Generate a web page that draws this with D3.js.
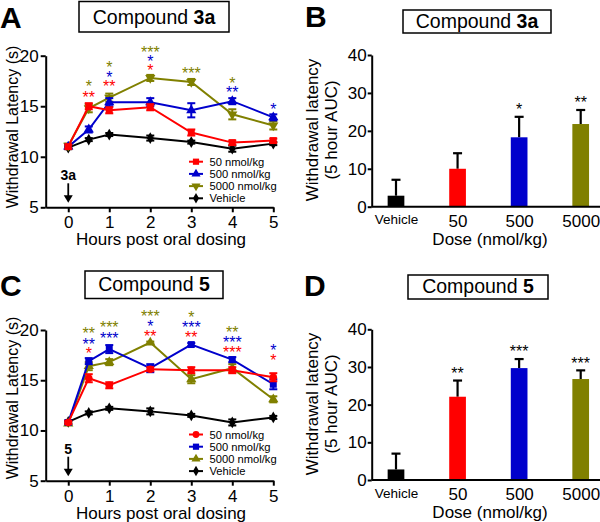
<!DOCTYPE html>
<html><head><meta charset="utf-8">
<script src="https://cdn.jsdelivr.net/npm/d3@7"></script>
<style>
body{margin:0;background:#fff}
text{font-family:"Liberation Sans",Arial,Helvetica,sans-serif;fill:#000}
</style>
</head><body>
<svg id="chart" width="600" height="522"></svg>
<script>
// ---------- data ----------
const hours = [0, 0.5, 1, 2, 3, 4, 5];
const hourTicks = [0, 1, 2, 3, 4, 5];
const latencyTicks = [5, 10, 15, 20];
const aucTicks = [0, 10, 20, 30, 40];
const seriesNames = ["50 nmol/kg", "500 nmol/kg", "5000 nmol/kg", "Vehicle"];
const seriesColors = ["#ff0000", "#0000cc", "#808000", "#000000"];

// Compound 3a time course (s)
const a50 = [11.0, 15.0, 14.6, 14.9, 12.4, 11.4, 11.6];
const a50Err = [0.2, 0.3, 0.3, 0.3, 0.3, 0.2, 0.2];
const a500 = [11.0, 12.7, 15.4, 15.4, 14.6, 15.5, 13.9];
const a500Err = [0.2, 0.3, 0.4, 0.4, 0.7, 0.3, 0.3];
const a5000 = [11.1, 14.8, 15.85, 17.8, 17.4, 14.2, 13.1];
const a5000Err = [0.2, 0.4, 0.4, 0.3, 0.3, 0.5, 0.4];
const aVeh = [10.9, 11.7, 12.2, 11.85, 11.45, 10.8, 11.3];
const aVehErr = [0.15, 0.15, 0.15, 0.25, 0.15, 0.3, 0.15];
// significance marks: [hour, series index, label, level]
const starsA = [
  [0.5, 2, "*", 17.3], [0.5, 0, "**", 16.2],
  [1, 2, "*", 19.15], [1, 1, "*", 18.25], [1, 0, "**", 17.3],
  [2, 2, "***", 20.65], [2, 1, "*", 19.8], [2, 0, "*", 18.9],
  [3, 2, "***", 18.65],
  [4, 2, "*", 17.6], [4, 1, "**", 16.7],
  [5, 1, "*", 15.0]
];

// Compound 5 time course (s)
const c50 = [10.8, 15.2, 14.5, 16.1, 16.0, 16.0, 15.3];
const c50Err = [0.15, 0.4, 0.3, 0.2, 0.3, 0.3, 0.4];
const c500 = [10.8, 16.9, 18.1, 16.2, 18.55, 17.05, 14.6];
const c500Err = [0.15, 0.3, 0.4, 0.4, 0.15, 0.25, 0.5];
const c5000 = [10.7, 16.4, 16.8, 18.75, 15.1, 16.2, 13.1];
const c5000Err = [0.15, 0.4, 0.3, 0.1, 0.4, 0.4, 0.3];
const cVeh = [10.85, 11.75, 12.2, 11.9, 11.5, 10.8, 11.3];
const cVehErr = [0.15, 0.15, 0.15, 0.3, 0.15, 0.3, 0.15];
const starsC = [
  [0.5, 2, "**", 20.0], [0.5, 1, "**", 18.9], [0.5, 0, "*", 18.0],
  [1, 2, "***", 20.6], [1, 1, "***", 19.55],
  [2, 2, "***", 21.7], [2, 1, "*", 20.7], [2, 0, "**", 19.75],
  [3, 2, "*", 21.65], [3, 1, "***", 20.65], [3, 0, "**", 19.65],
  [4, 2, "**", 20.15], [4, 1, "***", 19.1], [4, 0, "***", 18.1],
  [5, 1, "*", 18.35], [5, 0, "*", 17.35]
];

// 5 hour AUC bars
const doses = ["Vehicle", "50", "500", "5000"];
const doseColors = ["#000000", "#ff0000", "#0000cc", "#808000"];
const bAuc = [2.9, 10.0, 18.3, 21.8];
const bErr = [4.2, 4.1, 5.4, 3.7];
const bStars = ["", "", "*", "**"];
const dAuc = [2.8, 22.1, 29.7, 26.8];
const dErr = [4.2, 4.3, 2.4, 2.3];
const dStars = ["", "**", "***", "***"];

// ---------- drawing ----------
const svg = d3.select("#chart");
svg.append("rect").attr("width", 600).attr("height", 522).attr("fill", "#fff");

function styleAxis(g, fs) {
  g.selectAll("path.domain").attr("stroke", "#000").attr("stroke-width", 2);
  g.selectAll(".tick line").attr("stroke", "#000").attr("stroke-width", 2);
  g.selectAll(".tick text").attr("font-size", fs).attr("fill", "#000")
    .style("font-family", '"Liberation Sans",Arial,sans-serif');
}

function header(letter, lx, ly, title, bold, box, baseY) {
  svg.append("text").attr("x", lx).attr("y", ly).attr("font-size", 30)
    .attr("font-weight", "bold").text(letter);
  svg.append("rect").attr("x", box[0]).attr("y", box[1]).attr("width", box[2]).attr("height", box[3])
    .attr("fill", "none").attr("stroke", "#000").attr("stroke-width", 1.5);
  const t = svg.append("text").attr("x", box[0] + box[2] / 2).attr("y", baseY)
    .attr("text-anchor", "middle").attr("font-size", 19.5);
  t.append("tspan").text(title + " ");
  t.append("tspan").attr("font-weight", "bold").text(bold);
}

function linePanel(o) {
  const x = d3.scaleLinear().domain([-0.55, 5]).range([45.7, 273.3]);
  const y = d3.scaleLinear().domain([5, 20]).range([o.bottom, o.top]);
  const g = svg.append("g");

  const ya = g.append("g").attr("transform", "translate(45.7,0)")
    .call(d3.axisLeft(y).tickValues(latencyTicks).tickSize(5).tickSizeOuter(0).tickPadding(2));
  styleAxis(ya, 17);
  const xa = g.append("g").attr("transform", `translate(0,${o.bottom})`)
    .call(d3.axisBottom(x).tickValues(hourTicks).tickFormat(d3.format("d"))
      .tickSize(5).tickSizeOuter(0).tickPadding(4));
  styleAxis(xa, 17);

  g.append("text").attr("transform", `translate(18,${o.labelY}) rotate(-90)`)
    .attr("text-anchor", "middle").attr("font-size", 16).text("Withdrawal Latency (s)");
  g.append("text").attr("x", 161).attr("y", o.bottom + 38).attr("text-anchor", "middle")
    .attr("font-size", 17).text("Hours post oral dosing");

  // dose arrow
  g.append("text").attr("x", x(0)).attr("y", o.bottom - 27).attr("text-anchor", "middle")
    .attr("font-size", 14).attr("font-weight", "bold").text(o.doseLabel);
  g.append("line").attr("x1", x(0)).attr("x2", x(0)).attr("y1", o.bottom - 24).attr("y2", o.bottom - 10)
    .attr("stroke", "#000").attr("stroke-width", 1.8);
  g.append("path")
    .attr("d", `M${x(0) - 4.5},${o.bottom - 12} L${x(0) + 4.5},${o.bottom - 12} L${x(0)},${o.bottom - 4.5} Z`)
    .attr("fill", "#000");

  const line = d3.line().x((d, i) => x(hours[i])).y(d => y(d));
  const order = [3, 2, 1, 0];
  order.forEach(si => {
    const vals = o.values[si], errs = o.errors[si], col = seriesColors[si];
    g.append("path").datum(vals).attr("d", line).attr("fill", "none")
      .attr("stroke", col).attr("stroke-width", 2);
    const eb = g.append("g").attr("stroke", col).attr("stroke-width", 2);
    vals.forEach((v, i) => {
      const cx = x(hours[i]);
      eb.append("line").attr("x1", cx).attr("x2", cx).attr("y1", y(v - errs[i])).attr("y2", y(v + errs[i]));
      [v - errs[i], v + errs[i]].forEach(e =>
        eb.append("line").attr("x1", cx - 4).attr("x2", cx + 4).attr("y1", y(e)).attr("y2", y(e)));
    });
    const sym = d3.symbol().type(o.symbols[si]).size(o.sizes[si]);
    vals.forEach((v, i) => {
      g.append("path").attr("d", sym())
        .attr("transform", `translate(${x(hours[i])},${y(v)})` + (o.flip[si] ? " rotate(180)" : ""))
        .attr("fill", col);
    });
  });

  // significance stars: one text per time point, one tspan per series
  const groups = d3.groups(o.stars, s => s[0]);
  groups.forEach(([h, list]) => {
    const t = g.append("text").attr("text-anchor", "middle").attr("font-size", 16);
    list.forEach(s => {
      t.append("tspan").attr("x", x(h)).attr("y", y(s[3]) + 9.2)
        .style("fill", seriesColors[s[1]]).text(s[2]);
    });
  });

  // legend
  seriesNames.forEach((n, i) => {
    const ly = o.legendY + i * 12.2;
    g.append("line").attr("x1", 189).attr("x2", 203).attr("y1", ly).attr("y2", ly)
      .attr("stroke", seriesColors[i]).attr("stroke-width", 2);
    g.append("path").attr("d", d3.symbol().type(o.symbols[i]).size(o.sizes[i] * 0.8)())
      .attr("transform", `translate(196,${ly})` + (o.flip[i] ? " rotate(180)" : ""))
      .attr("fill", seriesColors[i]);
    g.append("text").attr("x", 209.5).attr("y", ly + 4).attr("font-size", 11.2).text(n);
  });
}

function barPanel(o) {
  const x = d3.scalePoint().domain(doses).range([396, 580.7]);
  const y = d3.scaleLinear().domain([0, 40]).range([o.bottom, o.top]);
  const g = svg.append("g");
  const bw = 16.7;

  doses.forEach((d, i) => {
    const v = o.values[i], e = o.errors[i], cx = x(d);
    g.append("line").attr("x1", cx).attr("x2", cx).attr("y1", y(v)).attr("y2", y(v + e))
      .attr("stroke", "#000").attr("stroke-width", 2.2);
    g.append("line").attr("x1", cx - 4.5).attr("x2", cx + 4.5).attr("y1", y(v + e)).attr("y2", y(v + e))
      .attr("stroke", "#000").attr("stroke-width", 2.2);
    g.append("rect").attr("x", cx - bw / 2).attr("y", y(v)).attr("width", bw).attr("height", y(0) - y(v))
      .attr("fill", doseColors[i]);
    if (o.stars[i]) {
      g.append("text").attr("x", cx).attr("y", y(v + e) - 11 + 9.2).attr("text-anchor", "middle")
        .attr("font-size", 16).text(o.stars[i]);
    }
  });

  const ya = g.append("g").attr("transform", "translate(371.7,0)")
    .call(d3.axisLeft(y).tickValues(aucTicks).tickSize(4).tickSizeOuter(0).tickPadding(1));
  styleAxis(ya, 17);
  g.append("line").attr("x1", 371.7).attr("x2", 600).attr("y1", o.bottom).attr("y2", o.bottom)
    .attr("stroke", "#000").attr("stroke-width", 2);
  const xa = g.append("g").attr("transform", `translate(0,${o.bottom})`)
    .call(d3.axisBottom(x).tickSize(0).tickPadding(8));
  xa.select("path.domain").remove();
  styleAxis(xa, 17);
  xa.selectAll(".tick text").attr("font-size", d => d === "Vehicle" ? 13.5 : 17);

  g.append("text").attr("transform", `translate(318,${o.labelY}) rotate(-90)`)
    .attr("text-anchor", "middle").attr("font-size", 17).text("Withdrawal latency");
  g.append("text").attr("transform", `translate(337,${o.labelY}) rotate(-90)`)
    .attr("text-anchor", "middle").attr("font-size", 17).text("(5 hour AUC)");
  g.append("text").attr("x", 490).attr("y", o.bottom + 38).attr("text-anchor", "middle")
    .attr("font-size", 17).text("Dose (nmol/kg)");
}

// Panel A
header("A", 0, 28, "Compound", "3a", [79, 1.5, 150, 30.5], 23.5);
linePanel({
  top: 55.7, bottom: 207.3, labelY: 127, doseLabel: "3a", legendY: 161.7,
  values: [a50, a500, a5000, aVeh], errors: [a50Err, a500Err, a5000Err, aVehErr],
  symbols: [d3.symbolSquare, d3.symbolTriangle, d3.symbolTriangle, d3.symbolDiamond],
  flip: [false, false, true, false], sizes: [48, 45, 45, 40], stars: starsA
});

// Panel B
header("B", 305, 27, "Compound", "3a", [403, 10, 148, 23], 28);
barPanel({ top: 55, bottom: 206.7, labelY: 130, values: bAuc, errors: bErr, stars: bStars });

// Panel C
header("C", 0, 296, "Compound", "5", [85, 271, 138, 27.5], 291);
linePanel({
  top: 330, bottom: 480.7, labelY: 398, doseLabel: "5", legendY: 434.5,
  values: [c50, c500, c5000, cVeh], errors: [c50Err, c500Err, c5000Err, cVehErr],
  symbols: [d3.symbolCircle, d3.symbolSquare, d3.symbolTriangle, d3.symbolDiamond],
  flip: [false, false, false, false], sizes: [45, 48, 45, 40], stars: starsC
});

// Panel D
header("D", 304, 296, "Compound", "5", [408, 275, 140, 24], 293);
barPanel({ top: 329.3, bottom: 480, labelY: 404, values: dAuc, errors: dErr, stars: dStars });
</script>
</body></html>
